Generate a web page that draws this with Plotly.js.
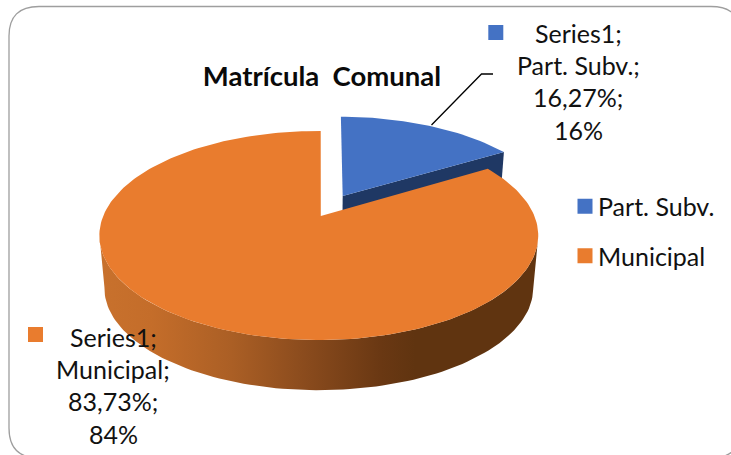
<!DOCTYPE html>
<html>
<head>
<meta charset="utf-8">
<script src="https://cdn.plot.ly/plotly-3.0.1.min.js"></script>
<style>html,body{margin:0;padding:0;background:#fff}</style>
</head>
<body>
<div id="chart" style="width:731px;height:455px"></div>
<script>
// ---- data ----
const categories = ["Part. Subv.", "Municipal"];
const shares = [16.27, 83.73];
const seriesName = "Series1";
const roundedShares = ["16%", "84%"];
const shareLabels = ["16,27%", "83,73%"];
const chartTitle = "Matrícula\u00a0 Comunal";
const topColors = ["#4472c4", "#e97c2e"];

// ---- 3D pie projection (disc -> picture) ----
const view = {cx: 318.8, cy: 216, rx: 215.6, ry: 100.9, p: 0.1866, depth: 53, shrink: 0.977, turn: 0.0105};
function project(a, b, low) {
  const w = 1 - view.p * b, s = low ? view.shrink : 1, d = low ? view.depth : 0;
  return [view.cx + s * view.rx * a / w, view.cy + d + s * view.ry * b / w];
}
function rimPoint(deg, off, low) {
  const t = deg * Math.PI / 180 + view.turn;
  return project(Math.sin(t) + off[0], -Math.cos(t) + off[1], low);
}
function arc(from, to, off, low) {
  const pts = [], n = Math.ceil(Math.abs(to - from) / 1.5);
  for (let i = 0; i <= n; i++) pts.push(rimPoint(from + (to - from) * i / n, off, low));
  return pts;
}
const total = shares[0] + shares[1];
const split = shares[0] / total * 360;
const pullBlue = [0.115, -0.206];
const rimAngle = Math.acos(-view.p) * 180 / Math.PI;

const blueApex = project(pullBlue[0], pullBlue[1], false);
const blueApexLow = project(pullBlue[0], pullBlue[1], true);
const orangeApex = [view.cx + 2, view.cy];

const blueTop = [blueApex].concat(arc(0, split, pullBlue, false));
const blueWall = [blueApex, rimPoint(split, pullBlue, false), rimPoint(split, pullBlue, true), blueApexLow];
const orangeTop = [orangeApex].concat(arc(split, 360, [0, 0], false));
const orangeWall = arc(rimAngle, 360 - rimAngle, [0, 0], false).concat(arc(360 - rimAngle, rimAngle, [0, 0], true));

function poly(pts, color, extra) {
  const c = pts.concat([pts[0]]);
  return Object.assign({
    type: "scatter", mode: "lines", x: c.map(p => p[0]), y: c.map(p => p[1]),
    fill: "toself", fillcolor: color, line: {width: 0, color: color}, showlegend: false, hoverinfo: "skip"
  }, extra || {});
}

const wallGradient = {
  type: "horizontal",
  colorscale: [[0, "#c8712d"], [0.12, "#c46d2a"], [0.3, "#ab5f25"], [0.47, "#8a4b1d"], [0.64, "#6a3813"], [0.72, "#603410"], [1, "#603410"]]
};

const traces = [
  poly(blueWall, "#1f3864"),
  poly(blueTop, topColors[0]),
  poly(orangeWall, "#8a4b1d", {fillgradient: wallGradient}),
  poly(orangeTop, topColors[1]),
  {type: "scatter", mode: "lines", x: [431.5, 481.5, 493], y: [125, 74, 74],
   line: {color: "#000000", width: 1.3}, showlegend: false, hoverinfo: "skip"}
];
// legend entries
categories.forEach((c, i) => traces.push({
  type: "scatter", mode: "markers", x: [null], y: [null], name: c, legendgroup: c,
  marker: {symbol: "square", size: 15, color: topColors[i]}, hoverinfo: "skip"
}));

// ---- data labels ----
const labelFont = {family: "Lato, Carlito, sans-serif", size: 25, color: "#111111"};
const labelLines = [
  [seriesName + ";", categories[0] + ";", shareLabels[0] + ";", roundedShares[0]],
  [seriesName + ";", categories[1] + ";", shareLabels[1] + ";", roundedShares[1]]
];
const labelAnchors = [{x: 578, y: 33}, {x: 113, y: 337}];
const lineStep = 32.2;
const annotations = [];
labelLines.forEach((lines, i) => lines.forEach((t, j) => annotations.push({
  xref: "x", yref: "y", x: labelAnchors[i].x, y: labelAnchors[i].y + j * lineStep,
  text: t, showarrow: false, xanchor: "center", yanchor: "middle", font: labelFont
})));

const swatches = [{x: 488.3, y: 25, c: 0}, {x: 28, y: 327, c: 1}];
const shapes = [{
  type: "path", xref: "x", yref: "y", layer: "below",
  path: "M 39 6.5 L 711 6.5 Q 741 6.5 741 36 L 741 428 Q 741 458 711 458 L 39 458 Q 9 458 9 428 L 9 36 Q 9 6.5 39 6.5 Z",
  line: {color: "#9e9e9e", width: 1.3}, fillcolor: "#ffffff"
}].concat(swatches.map(s => ({
  type: "rect", xref: "x", yref: "y", x0: s.x, x1: s.x + 15, y0: s.y, y1: s.y + 15,
  fillcolor: topColors[s.c], line: {width: 0}
})));

Plotly.newPlot("chart", traces, {
  width: 731, height: 455,
  margin: {l: 0, r: 0, t: 0, b: 0},
  paper_bgcolor: "#ffffff", plot_bgcolor: "rgba(0,0,0,0)",
  font: {family: "Lato, Carlito, sans-serif", color: "#111111"},
  title: {text: chartTitle, x: 322 / 731, xanchor: "center", xref: "paper", y: 1 - 76 / 455, yanchor: "middle",
          font: {family: "Lato, Carlito, sans-serif", size: 27.5, weight: "bold", color: "#0a0a0a"}},
  xaxis: {range: [0, 731], visible: false, fixedrange: true},
  yaxis: {range: [455, 0], visible: false, fixedrange: true},
  showlegend: true,
  legend: {x: 558 / 731, y: 1 - 183.5 / 455, xanchor: "left", yanchor: "top", bgcolor: "rgba(0,0,0,0)",
           tracegroupgap: 14, itemwidth: 30, font: {family: "Lato, Carlito, sans-serif", size: 25, color: "#111111"}},
  shapes: shapes,
  annotations: annotations
}, {displayModeBar: false, staticPlot: true}).then(() => {
  // legend keys sit closer to their text than the library's minimum item width allows
  document.querySelectorAll("#chart .legendsymbols").forEach(g => g.setAttribute("transform", "translate(7,0)"));
});
</script>
</body>
</html>
